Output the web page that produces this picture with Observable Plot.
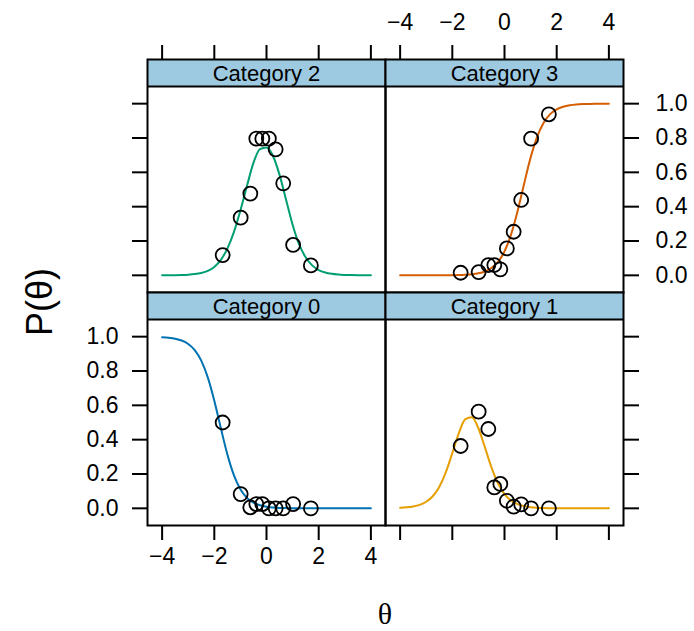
<!DOCTYPE html>
<html><head><meta charset="utf-8">
<script src="https://cdn.jsdelivr.net/npm/d3@7"></script>
<script src="https://cdn.jsdelivr.net/npm/@observablehq/plot@0.6"></script>
<style>
body{margin:0;background:#fff;}
#chart{position:relative;width:694px;height:631px;font-family:"Liberation Sans",Arial,sans-serif;color:#000;}
#chart svg{position:absolute;left:0;top:0;}
.ylab{position:absolute;left:40px;top:302px;transform:translate(-50%,-50%) rotate(-90deg);font-size:36px;white-space:nowrap;}
.xlab{position:absolute;left:385px;top:614px;transform:translate(-50%,-50%);font-family:"Liberation Serif","Times New Roman",serif;font-size:30px;}
</style></head><body><div id="chart"></div>
<script>
// ---- data ----
const categories = ["Category 0", "Category 1", "Category 2", "Category 3"];
const colors = ["#0072B2", "#E69F00", "#009E73", "#D55E00"];
const xTicks = [-4, -2, 0, 2, 4];
const yTicks = [0, 0.2, 0.4, 0.6, 0.8, 1.0];

const thetaGrid = [-4,-3.75,-3.5,-3.25,-3,-2.75,-2.5,-2.25,-2,-1.75,-1.5,-1.25,-1,-0.75,-0.5,-0.25,0,0.25,0.5,0.75,1,1.25,1.5,1.75,2,2.25,2.5,2.75,3,3.25,3.5,3.75,4];
const curve0 = [0.9967,0.9938,0.9881,0.9775,0.9576,0.922,0.8606,0.7631,0.6271,0.4675,0.3143,0.1931,0.1110,0.0612,0.0329,0.0175,0.0092,0.0048,0.0025,0.0013,0.0007,0.0004,0.0002,0.0001,0,0,0,0,0,0,0,0,0];
const curve1 = [0.0030,0.0057,0.0108,0.0204,0.0384,0.0703,0.1248,0.2093,0.3213,0.4382,0.5194,0.5304,0.4664,0.3551,0.2384,0.1453,0.0829,0.0455,0.0244,0.0129,0.0068,0.0036,0.0018,0.0010,0.0005,0.0003,0.0001,0,0,0,0,0,0];
const curve2 = [0.0003,0.0006,0.0011,0.0021,0.0040,0.0075,0.0140,0.0260,0.0490,0.0900,0.1560,0.2520,0.3780,0.5200,0.6550,0.7350,0.7450,0.6950,0.5850,0.4400,0.2950,0.1800,0.1050,0.0580,0.0310,0.0165,0.0088,0.0046,0.0025,0.0013,0.0007,0.0004,0.0002];
const curve3 = [0,0,0,0,0.0001,0.0001,0.0002,0.0005,0.0009,0.0017,0.0033,0.0062,0.0119,0.0225,0.0424,0.0780,0.1394,0.2369,0.3729,0.5325,0.6857,0.8069,0.8890,0.9388,0.9671,0.9825,0.9908,0.9952,0.9975,0.9987,0.9993,0.9996,0.9998];

const obsTheta = [-1.68, -0.99, -0.62, -0.39, -0.16, 0.09, 0.35, 0.64, 1.02, 1.70];
const obs0 = [0.500, 0.083, 0.006, 0.025, 0.025, 0.000, 0.000, 0.000, 0.025, 0.000];
const obs1 = [0.363, 0.563, 0.462, 0.122, 0.142, 0.044, 0.010, 0.023, 0.000, 0.000];
const obs2 = [0.118, 0.336, 0.476, 0.796, 0.796, 0.796, 0.734, 0.536, 0.177, 0.058];
const obs3 = [0.015, 0.019, 0.060, 0.060, 0.035, 0.157, 0.254, 0.439, 0.796, 0.938];

const curves = [curve0, curve1, curve2, curve3];
const obs = [obs0, obs1, obs2, obs3];

// ---- layout ----
const W = 694, H = 631;
const X_DOMAIN = [-4.56, 4.56];
const Y_MIN = -0.1, Y_MAX = 1.1;
const STRIP_PX = 27, PANEL_PX = 206;
const Y_TOP = Y_MAX + (Y_MAX - Y_MIN) * STRIP_PX / PANEL_PX;
const STRIP_FILL = "#9ECAE1";
const FONT = 22, TICK_FONT = 23;

const panels = [
  {k: 2, left: 147, right: 385, top: 59,  bottom: 292, xSide: "top",    xLab: false, ySide: "left",  yLab: false},
  {k: 3, left: 385, right: 623, top: 59,  bottom: 292, xSide: "top",    xLab: true,  ySide: "right", yLab: true},
  {k: 0, left: 147, right: 385, top: 292, bottom: 525, xSide: "bottom", xLab: true,  ySide: "left",  yLab: true},
  {k: 1, left: 385, right: 623, top: 292, bottom: 525, xSide: "bottom", xLab: false, ySide: "right", yLab: false}
];

const fmtX = d => d < 0 ? "\u2212" + Math.abs(d) : String(d);
const fmtY = d => d.toFixed(1);
const blank = () => "";

const chart = document.getElementById("chart");

for (const p of panels) {
  const curveData = thetaGrid.map((t, i) => ({theta: t, p: curves[p.k][i]}));
  const obsData = obsTheta.map((t, i) => ({theta: t, p: obs[p.k][i]}));
  const marks = [
    Plot.rect([categories[p.k]], {x1: () => X_DOMAIN[0], x2: () => X_DOMAIN[1], y1: () => Y_MAX, y2: () => Y_TOP, fill: STRIP_FILL}),
    Plot.line(curveData, {x: "theta", y: "p", stroke: colors[p.k], strokeWidth: 2, curve: "monotone-x"}),
    Plot.dot(obsData, {x: "theta", y: "p", r: 7, stroke: "#000", strokeWidth: 1.8, fill: "none"}),
    Plot.ruleY([Y_MAX], {stroke: "#000", strokeWidth: 2}),
    Plot.frame({stroke: "#000", strokeWidth: 2}),
    Plot.text([categories[p.k]], {text: d => d, frameAnchor: "top", lineAnchor: "middle", dy: STRIP_PX / 2 + 1, fontSize: FONT, fill: "#000"}),
    Plot.axisX(xTicks, {anchor: p.xSide, tickSize: 15, strokeWidth: 2, tickFormat: blank, label: null}),
    Plot.axisY(yTicks, {anchor: p.ySide, tickSize: 15, strokeWidth: 2, tickFormat: blank, label: null})
  ];
  if (p.xLab) {
    marks.push(Plot.text(xTicks, {x: d => d, text: fmtX, frameAnchor: p.xSide, lineAnchor: "middle",
      dy: p.xSide === "top" ? -37 : 31, fontSize: TICK_FONT, fill: "#000"}));
  }
  if (p.yLab) {
    marks.push(Plot.text(yTicks, {y: d => d, text: fmtY, frameAnchor: p.ySide, lineAnchor: "middle",
      textAnchor: p.ySide === "left" ? "end" : "start", dx: p.ySide === "left" ? -29 : 32, fontSize: TICK_FONT, fill: "#000"}));
  }
  const svg = Plot.plot({
    width: W, height: H,
    marginLeft: p.left, marginRight: W - p.right,
    marginTop: p.top, marginBottom: H - p.bottom,
    style: {background: "transparent", fontFamily: "'Liberation Sans', Arial, sans-serif", fontSize: FONT + "px", color: "#000"},
    x: {domain: X_DOMAIN},
    y: {domain: [Y_MIN, Y_TOP]},
    marks
  });
  chart.appendChild(svg);
}

const yl = document.createElement("div");
yl.className = "ylab"; yl.textContent = "P(\u03B8)";
chart.appendChild(yl);
const xl = document.createElement("div");
xl.className = "xlab"; xl.textContent = "\u03B8";
chart.appendChild(xl);
</script>
</body></html>
